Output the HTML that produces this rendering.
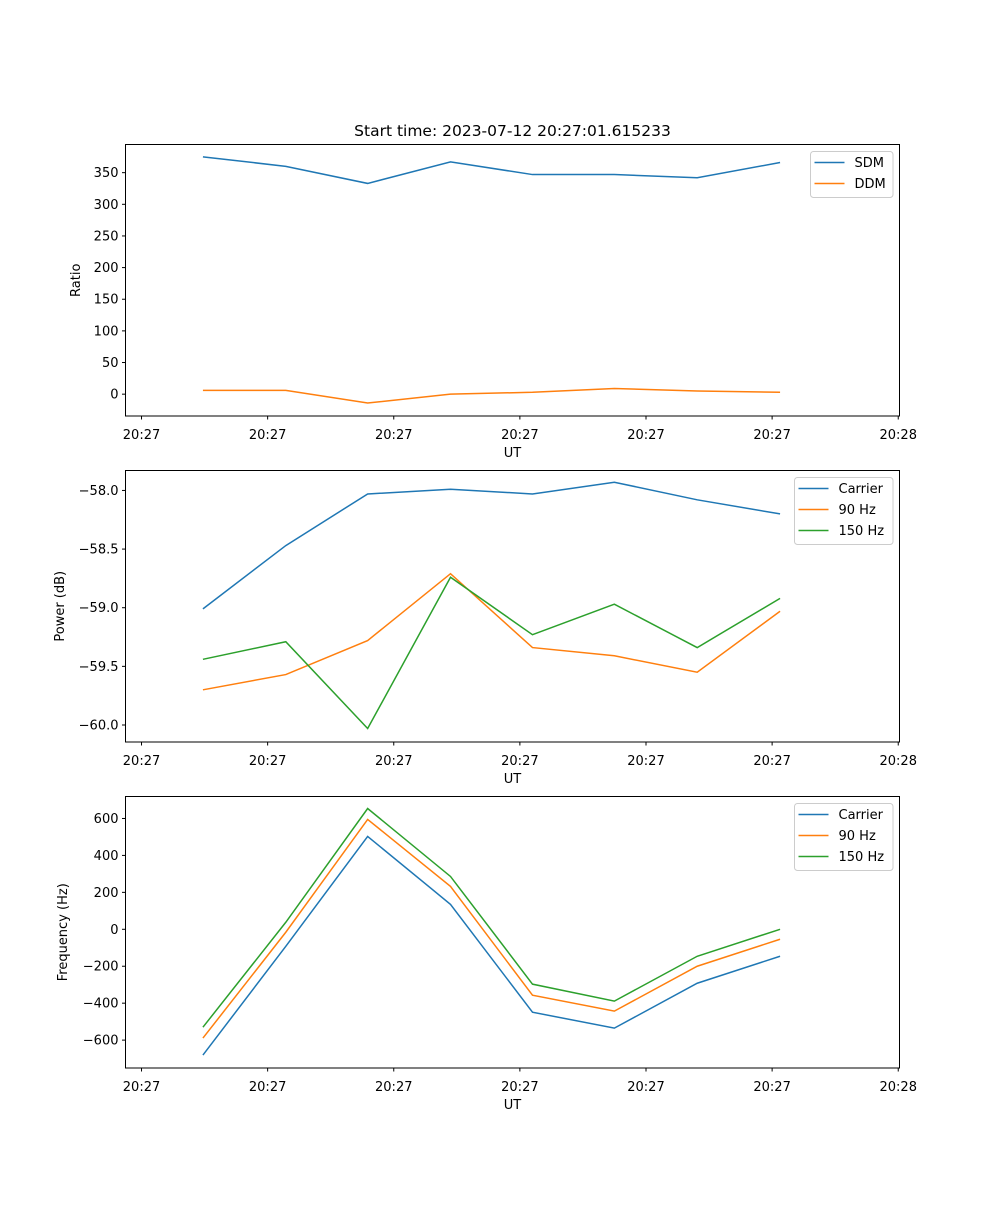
<!DOCTYPE html>
<html><head><meta charset="utf-8"><style>
body{margin:0;background:#fff;}
svg text{font-family:"DejaVu Sans","Liberation Sans",sans-serif;fill:#000;}
</style></head><body>
<svg id="fig" width="1000" height="1200" xmlns="http://www.w3.org/2000/svg"></svg>
<script>
const times=[4.87,11.44,17.93,24.5,31.0,37.49,44.06,50.63];
const xTickVals=[0,10,20,30,40,50,60];
const xTickLabels=["20:27","20:27","20:27","20:27","20:27","20:27","20:28"];
const sdm=[375,360,333,367,347,347,342,366];
const ddm=[6,6,-14,0,3,9,5,3];
const ratioTicks=[0,50,100,150,200,250,300,350];
const powCarrier=[-59.01,-58.47,-58.03,-57.99,-58.03,-57.93,-58.08,-58.2];
const pow90=[-59.70,-59.57,-59.28,-58.71,-59.34,-59.41,-59.55,-59.03];
const pow150=[-59.44,-59.29,-60.03,-58.74,-59.23,-58.97,-59.34,-58.92];
const powTicks=[-60.0,-59.5,-59.0,-58.5,-58.0];
const freqCarrier=[-681,-92,503,135,-449,-535,-292,-146];
const freq90=[-589,-16,595,232,-357,-443,-200,-54];
const freq150=[-530,38,654,286,-297,-389,-146,0];
const freqTicks=[-600,-400,-200,0,200,400,600];

const NS="http://www.w3.org/2000/svg";
const svg=document.getElementById('fig');
function mk(tag,attrs,parent){const e=document.createElementNS(NS,tag);for(const k in attrs)e.setAttribute(k,attrs[k]);(parent||svg).appendChild(e);return e;}
const L=125.5,R=899.5,XMIN=-1.27,XMAX=60.1;
function xs(t){return L+(t-XMIN)/(XMAX-XMIN)*(R-L);}
const C1='#1f77b4',C2='#ff7f0e',C3='#2ca02c';

function panel(id,top,bottom,ymin,ymax,ticks,fmt,ylabel,series,legend,lx,lw){
  const g=mk('g',{});
  
  
  const ys=v=>bottom-(v-ymin)/(ymax-ymin)*(bottom-top);
  series.forEach(s=>{
    const p=mk('polyline',{points:s.vals.map((v,i)=>xs(times[i])+','+ys(v)).join(' '),fill:'none',stroke:s.color,'stroke-width':1.5},g);
    
    
  });
  const fr=mk('rect',{x:L,y:top,width:R-L,height:bottom-top,fill:'none',stroke:'#000','stroke-width':1},g);
  
  
  ticks.forEach(v=>{
    const y=ys(v);
    mk('line',{x1:L-3.5,x2:L,y1:y,y2:y,stroke:'#000'},g);
    const t=mk('text',{x:L-7,y:y+4.5,'text-anchor':'end','font-size':13},g);
    t.textContent=fmt(v);
    
    
  });
  xTickVals.forEach((v,i)=>{
    const x=xs(v);
    mk('line',{x1:x,x2:x,y1:bottom,y2:bottom+3.5,stroke:'#000'},g);
    const t=mk('text',{x:x,y:bottom+23,'text-anchor':'middle','font-size':13},g);
    t.textContent=xTickLabels[i];
    
    
  });
  const xl=mk('text',{x:(L+R)/2,y:bottom+41,'text-anchor':'middle','font-size':13},g);
  xl.textContent='UT';
  
  
  const yl=mk('text',{x:0,y:0,'text-anchor':'middle','font-size':13,transform:`translate(${lx},${(top+bottom)/2}) rotate(-90)`},g);
  yl.textContent=ylabel;
  
  
  const n=series.length, bx=893-lw, by=top+7;
  const lg=mk('g',{},g);
  
  
  mk('rect',{x:bx,y:by,width:lw,height:n*21+4,rx:3,fill:'#fff',stroke:'#ccc','stroke-width':1},lg);
  series.forEach((s,i)=>{
    const yy=by+11+i*21;
    mk('line',{x1:bx+4,x2:bx+34,y1:yy,y2:yy,stroke:s.color,'stroke-width':1.5},lg);
    const t=mk('text',{x:bx+44,y:yy+4.5,'font-size':13},lg);
    t.textContent=s.label;
    
    
  });
}
const title=mk('text',{x:(L+R)/2,y:136,'text-anchor':'middle','font-size':15.5});
title.textContent='Start time: 2023-07-12 20:27:01.615233';



panel('ratio',144.5,416,-34.5,394.5,ratioTicks,v=>String(v),'Ratio',
 [{key:'sdm',label:'SDM',vals:sdm,color:C1},{key:'ddm',label:'DDM',vals:ddm,color:C2}],null,80,82.5);
panel('power',470.5,742,-60.145,-57.83,powTicks,v=>(v<0?'\u2212':'')+Math.abs(v).toFixed(1),'Power (dB)',
 [{key:'carrier',label:'Carrier',vals:powCarrier,color:C1},{key:'90hz',label:'90 Hz',vals:pow90,color:C2},{key:'150hz',label:'150 Hz',vals:pow150,color:C3}],null,64,98.5);
panel('frequency',796.5,1068,-751,719,freqTicks,v=>(v<0?'\u2212':'')+Math.abs(v),'Frequency (Hz)',
 [{key:'carrier',label:'Carrier',vals:freqCarrier,color:C1},{key:'90hz',label:'90 Hz',vals:freq90,color:C2},{key:'150hz',label:'150 Hz',vals:freq150,color:C3}],null,67,98.5);
</script>
</body></html>
